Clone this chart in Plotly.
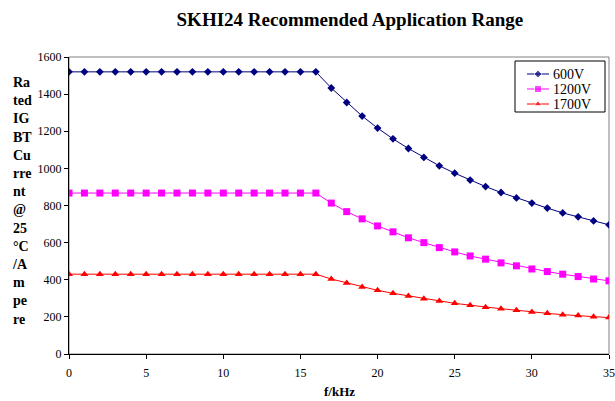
import plotly.graph_objects as go

freq_khz = list(range(0, 36))
flat = 17
i_600v = [1520] * flat + [1433, 1355, 1282, 1217, 1159, 1107, 1059, 1014, 974, 937,
                          902, 870, 841, 813, 786, 760, 739, 717, 696]
i_1200v = [867] * flat + [813, 767, 728, 690, 658, 626, 600, 573, 550, 528,
                          511, 491, 475, 458, 444, 430, 417, 404, 394]
i_1700v = [430] * flat + [404, 383, 361, 343, 327, 313, 298, 286, 273, 263,
                          252, 244, 236, 226, 219, 212, 207, 201, 196]
series_names = ["600V", "1200V", "1700V"]
x_ticks = [0, 5, 10, 15, 20, 25, 30, 35]
y_ticks = [0, 200, 400, 600, 800, 1000, 1200, 1400, 1600]

serif = "Liberation Serif"
colors = ["#000080", "#FF00FF", "#FF0000"]
symbols = ["diamond", "square", "triangle-up"]
sizes = [6, 7, 7]
series = [i_600v, i_1200v, i_1700v]

L, R, T, B = 69, 6, 57, 47
W, H = 615, 401

fig = go.Figure()
for name, vals, c, s, sz in zip(series_names, series, colors, symbols, sizes):
    fig.add_trace(go.Scatter(x=freq_khz, y=vals, name=name, mode="lines+markers",
                             line=dict(color=c, width=1), showlegend=False,
                             marker=dict(symbol=s, size=sz, color=c)))

# legend drawn on a pixel-based overlay axis
leg_x0, leg_x1, leg_y0, leg_y1 = 515, 605, 61, 112
row_y = [74, 89, 104]
for name, c, s, sz, ry in zip(series_names, colors, symbols, sizes, row_y):
    fig.add_trace(go.Scatter(x=[527, 538, 549], y=[ry, ry, ry], mode="lines+markers",
                             line=dict(color=c, width=1), showlegend=False, hoverinfo="skip",
                             marker=dict(symbol=s, size=[0, sz, 0], color=c),
                             xaxis="x2", yaxis="y2"))
    fig.add_annotation(text=name, xref="x2", yref="y2", x=551, y=ry, xanchor="left",
                       yanchor="middle", showarrow=False,
                       font=dict(family=serif, size=14, color="black"))
fig.add_shape(type="rect", xref="x2", yref="y2", x0=leg_x0, y0=leg_y0, x1=leg_x1, y1=leg_y1,
              line=dict(color="black", width=1), fillcolor="white", layer="below")

# gray plot frame
fig.add_shape(type="rect", xref="paper", yref="paper", x0=0, y0=0, x1=1, y1=1,
              line=dict(color="#808080", width=1), layer="below")

ylabel = "<br>".join(["Ra", "ted", "IG", "BT", "Cu", "rre", "nt", "@", "25", "°C",
                      "/A", "m", "pe", "re"])
fig.add_annotation(text="<b>" + ylabel + "</b>", xref="paper", yref="paper",
                   x=-0.087, y=0.515, xanchor="center", yanchor="middle", showarrow=False,
                   align="left", font=dict(family=serif, size=14, color="black"))
fig.add_annotation(text="<b>f/kHz</b>", xref="paper", yref="paper",
                   x=0.5, y=-0.127, xanchor="center", yanchor="middle", showarrow=False,
                   font=dict(family=serif, size=13, color="black"))

fig.update_layout(
    width=W, height=H,
    margin=dict(l=L, r=R, t=T, b=B, autoexpand=False),
    paper_bgcolor="white", plot_bgcolor="white",
    title=dict(text="<b>SKHI24 Recommended Application Range</b>", x=0.569, xanchor="center",
               y=0.952, yanchor="middle", font=dict(family=serif, size=19, color="black")),
    font=dict(family=serif, size=11, color="black"),
    showlegend=False,
    xaxis=dict(range=[0, 35], tickvals=x_ticks, showgrid=False, zeroline=False,
               showline=True, linecolor="black", linewidth=1, automargin=False,
               ticks="outside", ticklen=4, tickcolor="black", ticklabelstandoff=4,
               tickfont=dict(family=serif, size=12, color="black")),
    yaxis=dict(range=[0, 1600], tickvals=y_ticks, showgrid=False, zeroline=False,
               showline=True, linecolor="black", linewidth=1, automargin=False,
               ticks="outside", ticklen=4, tickcolor="black",
               tickfont=dict(family=serif, size=12, color="black")),
    xaxis2=dict(range=[L, W - R], overlaying="x", visible=False, fixedrange=True),
    yaxis2=dict(range=[H - B, T], overlaying="y", visible=False, fixedrange=True),
)

fig.write_html("out.html", config={"displayModeBar": False},
               post_script="document.body.style.margin='0';document.body.style.overflow='hidden';")
